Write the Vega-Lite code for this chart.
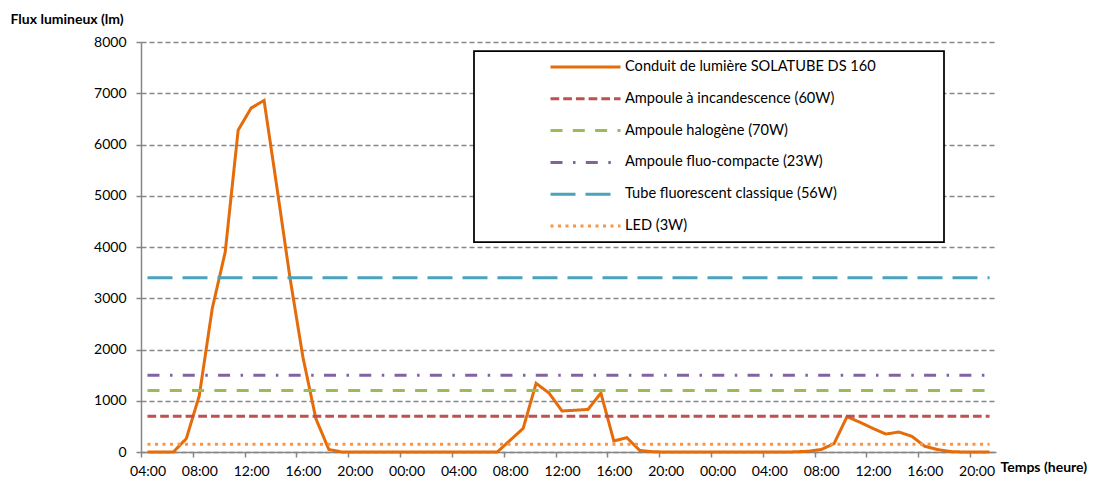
{
  "$schema": "https://vega.github.io/schema/vega-lite/v6.json",
  "width": 855,
  "height": 410,
  "autosize": {"type": "none"},
  "padding": {"left": 141, "top": 42, "right": 104, "bottom": 31},
  "background": "white",
  "config": {
    "font": "Lato",
    "view": {"stroke": null},
    "legend": {"strokeWidth": 1.75}
  },
  "data": {
    "values": [
      {"h": 4, "serie": "Conduit de lumière SOLATUBE DS 160", "flux": 0},
      {"h": 5, "serie": "Conduit de lumière SOLATUBE DS 160", "flux": 0},
      {"h": 6, "serie": "Conduit de lumière SOLATUBE DS 160", "flux": 0},
      {"h": 7, "serie": "Conduit de lumière SOLATUBE DS 160", "flux": 262},
      {"h": 8, "serie": "Conduit de lumière SOLATUBE DS 160", "flux": 1100},
      {"h": 9, "serie": "Conduit de lumière SOLATUBE DS 160", "flux": 2800},
      {"h": 10, "serie": "Conduit de lumière SOLATUBE DS 160", "flux": 3900},
      {"h": 11, "serie": "Conduit de lumière SOLATUBE DS 160", "flux": 6280},
      {"h": 12, "serie": "Conduit de lumière SOLATUBE DS 160", "flux": 6710},
      {"h": 13, "serie": "Conduit de lumière SOLATUBE DS 160", "flux": 6860},
      {"h": 14, "serie": "Conduit de lumière SOLATUBE DS 160", "flux": 5150},
      {"h": 15, "serie": "Conduit de lumière SOLATUBE DS 160", "flux": 3400},
      {"h": 16, "serie": "Conduit de lumière SOLATUBE DS 160", "flux": 1850},
      {"h": 17, "serie": "Conduit de lumière SOLATUBE DS 160", "flux": 650},
      {"h": 18, "serie": "Conduit de lumière SOLATUBE DS 160", "flux": 50},
      {"h": 19, "serie": "Conduit de lumière SOLATUBE DS 160", "flux": 0},
      {"h": 20, "serie": "Conduit de lumière SOLATUBE DS 160", "flux": 0},
      {"h": 21, "serie": "Conduit de lumière SOLATUBE DS 160", "flux": 0},
      {"h": 22, "serie": "Conduit de lumière SOLATUBE DS 160", "flux": 0},
      {"h": 23, "serie": "Conduit de lumière SOLATUBE DS 160", "flux": 0},
      {"h": 24, "serie": "Conduit de lumière SOLATUBE DS 160", "flux": 0},
      {"h": 25, "serie": "Conduit de lumière SOLATUBE DS 160", "flux": 0},
      {"h": 26, "serie": "Conduit de lumière SOLATUBE DS 160", "flux": 0},
      {"h": 27, "serie": "Conduit de lumière SOLATUBE DS 160", "flux": 0},
      {"h": 28, "serie": "Conduit de lumière SOLATUBE DS 160", "flux": 0},
      {"h": 29, "serie": "Conduit de lumière SOLATUBE DS 160", "flux": 0},
      {"h": 30, "serie": "Conduit de lumière SOLATUBE DS 160", "flux": 0},
      {"h": 31, "serie": "Conduit de lumière SOLATUBE DS 160", "flux": 0},
      {"h": 32, "serie": "Conduit de lumière SOLATUBE DS 160", "flux": 230},
      {"h": 33, "serie": "Conduit de lumière SOLATUBE DS 160", "flux": 460},
      {"h": 34, "serie": "Conduit de lumière SOLATUBE DS 160", "flux": 1340},
      {"h": 35, "serie": "Conduit de lumière SOLATUBE DS 160", "flux": 1150},
      {"h": 36, "serie": "Conduit de lumière SOLATUBE DS 160", "flux": 800},
      {"h": 37, "serie": "Conduit de lumière SOLATUBE DS 160", "flux": 815},
      {"h": 38, "serie": "Conduit de lumière SOLATUBE DS 160", "flux": 830},
      {"h": 39, "serie": "Conduit de lumière SOLATUBE DS 160", "flux": 1150},
      {"h": 40, "serie": "Conduit de lumière SOLATUBE DS 160", "flux": 215},
      {"h": 41, "serie": "Conduit de lumière SOLATUBE DS 160", "flux": 280},
      {"h": 42, "serie": "Conduit de lumière SOLATUBE DS 160", "flux": 30},
      {"h": 43, "serie": "Conduit de lumière SOLATUBE DS 160", "flux": 5},
      {"h": 44, "serie": "Conduit de lumière SOLATUBE DS 160", "flux": 0},
      {"h": 45, "serie": "Conduit de lumière SOLATUBE DS 160", "flux": 0},
      {"h": 46, "serie": "Conduit de lumière SOLATUBE DS 160", "flux": 0},
      {"h": 47, "serie": "Conduit de lumière SOLATUBE DS 160", "flux": 0},
      {"h": 48, "serie": "Conduit de lumière SOLATUBE DS 160", "flux": 0},
      {"h": 49, "serie": "Conduit de lumière SOLATUBE DS 160", "flux": 0},
      {"h": 50, "serie": "Conduit de lumière SOLATUBE DS 160", "flux": 0},
      {"h": 51, "serie": "Conduit de lumière SOLATUBE DS 160", "flux": 0},
      {"h": 52, "serie": "Conduit de lumière SOLATUBE DS 160", "flux": 0},
      {"h": 53, "serie": "Conduit de lumière SOLATUBE DS 160", "flux": 0},
      {"h": 54, "serie": "Conduit de lumière SOLATUBE DS 160", "flux": 3},
      {"h": 55, "serie": "Conduit de lumière SOLATUBE DS 160", "flux": 15},
      {"h": 56, "serie": "Conduit de lumière SOLATUBE DS 160", "flux": 47},
      {"h": 57, "serie": "Conduit de lumière SOLATUBE DS 160", "flux": 164},
      {"h": 58, "serie": "Conduit de lumière SOLATUBE DS 160", "flux": 690},
      {"h": 59, "serie": "Conduit de lumière SOLATUBE DS 160", "flux": 580},
      {"h": 60, "serie": "Conduit de lumière SOLATUBE DS 160", "flux": 460},
      {"h": 61, "serie": "Conduit de lumière SOLATUBE DS 160", "flux": 350},
      {"h": 62, "serie": "Conduit de lumière SOLATUBE DS 160", "flux": 390},
      {"h": 63, "serie": "Conduit de lumière SOLATUBE DS 160", "flux": 307},
      {"h": 64, "serie": "Conduit de lumière SOLATUBE DS 160", "flux": 111},
      {"h": 65, "serie": "Conduit de lumière SOLATUBE DS 160", "flux": 47},
      {"h": 66, "serie": "Conduit de lumière SOLATUBE DS 160", "flux": 8},
      {"h": 67, "serie": "Conduit de lumière SOLATUBE DS 160", "flux": 0},
      {"h": 68, "serie": "Conduit de lumière SOLATUBE DS 160", "flux": 0},
      {"h": 69, "serie": "Conduit de lumière SOLATUBE DS 160", "flux": 0},
      {"h": 4, "serie": "Ampoule à incandescence (60W)", "flux": 700},
      {"h": 69, "serie": "Ampoule à incandescence (60W)", "flux": 700},
      {"h": 4, "serie": "Ampoule halogène (70W)", "flux": 1200},
      {"h": 69, "serie": "Ampoule halogène (70W)", "flux": 1200},
      {"h": 4, "serie": "Ampoule fluo-compacte (23W)", "flux": 1500},
      {"h": 69, "serie": "Ampoule fluo-compacte (23W)", "flux": 1500},
      {"h": 4, "serie": "Tube fluorescent classique (56W)", "flux": 3400},
      {"h": 69, "serie": "Tube fluorescent classique (56W)", "flux": 3400},
      {"h": 4, "serie": "LED (3W)", "flux": 150},
      {"h": 69, "serie": "LED (3W)", "flux": 150}
    ]
  },
  "mark": {"type": "line", "strokeWidth": 3},
  "encoding": {
    "x": {
      "field": "h",
      "type": "quantitative",
      "scale": {"domain": [3.5, 69.5], "nice": false, "zero": false},
      "axis": {
        "values": [3.5, 7.5, 11.5, 15.5, 19.5, 23.5, 27.5, 31.5, 35.5, 39.5, 43.5, 47.5, 51.5, 55.5, 59.5, 63.5, 67.5],
        "labelExpr": "pad(toString((datum.value + 0.5) % 24), 2, '0', 'left') + ':00'",
        "labelOffset": 6.5,
        "labelFlush": false,
        "labelOverlap": false,
        "grid": false,
        "tickSize": 5,
        "tickColor": "#868686",
        "tickWidth": 1.5,
        "domainColor": "#868686",
        "domainWidth": 1.5,
        "labelFont": "Lato",
        "labelFontSize": 14,
        "labelColor": "#000000",
        "labelPadding": 7,
        "title": "Temps (heure)",
        "titleFont": "Lato",
        "titleFontSize": 14,
        "titleFontWeight": "bold",
        "titleColor": "#000000",
        "titleX": 859,
        "titleY": 15,
        "titleAlign": "left",
        "titleBaseline": "middle",
        "titleAngle": 0
      }
    },
    "y": {
      "field": "flux",
      "type": "quantitative",
      "scale": {"domain": [0, 8000], "nice": false},
      "axis": {
        "values": [0, 1000, 2000, 3000, 4000, 5000, 6000, 7000, 8000],
        "format": "d",
        "grid": true,
        "gridColor": "#868686",
        "gridDash": [5, 3],
        "gridWidth": 1.3,
        "tickSize": 5,
        "tickColor": "#868686",
        "tickWidth": 1.5,
        "domainColor": "#868686",
        "domainWidth": 1.5,
        "labelFont": "Lato",
        "labelFontSize": 14,
        "labelColor": "#000000",
        "labelPadding": 10,
        "title": "Flux lumineux (lm)",
        "titleFont": "Lato",
        "titleFontSize": 14,
        "titleFontWeight": "bold",
        "titleColor": "#000000",
        "titleX": -131,
        "titleY": -23,
        "titleAlign": "left",
        "titleBaseline": "middle",
        "titleAngle": 0
      }
    },
    "color": {
      "field": "serie",
      "type": "nominal",
      "scale": {
        "domain": ["Conduit de lumière SOLATUBE DS 160", "Ampoule à incandescence (60W)", "Ampoule halogène (70W)", "Ampoule fluo-compacte (23W)", "Tube fluorescent classique (56W)", "LED (3W)"],
        "range": ["#E46C0A", "#C0504D", "#9BBB59", "#8064A2", "#4AA3BD", "#F79646"]
      },
      "legend": {
        "orient": "none",
        "legendX": 333,
        "legendY": 9,
        "title": " ",
        "titleOrient": "right",
        "titleFontSize": 2,
        "titlePadding": 60,
        "padding": 8,
        "fillColor": "white",
        "strokeColor": "#000000",
        "symbolType": "stroke",
        "symbolSize": 4900,
        "symbolStrokeWidth": 3,
        "symbolOffset": 67,
        "clipHeight": 16,
        "rowPadding": 15.8,
        "labelOffset": 3,
        "labelFont": "Lato",
        "labelFontSize": 14.6,
        "labelColor": "#000000",
        "labelLimit": 500
      }
    },
    "strokeDash": {
      "field": "serie",
      "type": "nominal",
      "scale": {
        "domain": ["Conduit de lumière SOLATUBE DS 160", "Ampoule à incandescence (60W)", "Ampoule halogène (70W)", "Ampoule fluo-compacte (23W)", "Tube fluorescent classique (56W)", "LED (3W)"],
        "range": [[1, 0], [8.7, 4], [12, 10.3], [12, 10.5, 2.5, 10.3], [25, 10], [3, 4.5]]
      },
      "legend": {
        "orient": "none",
        "legendX": 333,
        "legendY": 9,
        "title": " ",
        "titleOrient": "right",
        "titleFontSize": 2,
        "titlePadding": 60,
        "padding": 8,
        "fillColor": "white",
        "strokeColor": "#000000",
        "symbolType": "stroke",
        "symbolSize": 4900,
        "symbolStrokeWidth": 3,
        "symbolOffset": 67,
        "clipHeight": 16,
        "rowPadding": 15.8,
        "labelOffset": 3,
        "labelFont": "Lato",
        "labelFontSize": 14.6,
        "labelColor": "#000000",
        "labelLimit": 500
      }
    }
  }
}
